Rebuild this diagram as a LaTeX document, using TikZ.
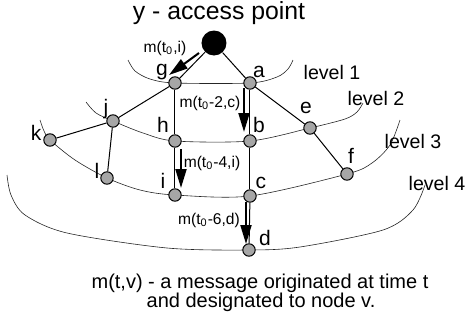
\documentclass[tikz,border=0pt]{standalone}
\usepackage{fontspec}
\setmainfont{Liberation Sans}
\usetikzlibrary{arrows.meta,calc,backgrounds}

\begin{document}
\begin{tikzpicture}[x=0.5pt,y=-0.5pt,
  sensor/.style={circle,draw,line width=0.5pt,fill=black!35,inner sep=0pt,minimum size=6.2pt},
  apoint/.style={circle,fill=black,inner sep=0pt,minimum size=12.5pt},
  lbl/.style={font=\fontsize{10.5}{12}\selectfont,inner sep=0pt,anchor=base},
  msg/.style={font=\fontsize{7.8}{9}\selectfont,inner sep=0pt,anchor=base},
  lvl/.style={font=\fontsize{9.8}{11}\selectfont,inner sep=0pt,anchor=base},
  link/.style={line width=0.5pt},
  ring/.style={line width=0.3pt,black!85},
  flow/.style={line width=1pt,-{Triangle[length=9.5pt,width=5.5pt]}}]
\useasboundingbox (0,0) rectangle (468,322);

% access point and sensors
\node[apoint] (y) at (214,43) {};
\node[sensor] (g) at (175,83) {};
\node[sensor] (a) at (250,83) {};
\node[sensor] (j) at (113,121) {};
\node[sensor] (h) at (175,141) {};
\node[sensor] (b) at (250,141) {};
\node[sensor] (e) at (310,128) {};
\node[sensor] (k) at (50,140) {};
\node[sensor] (l) at (107,178) {};
\node[sensor] (i) at (175,195) {};
\node[sensor] (c) at (250,196) {};
\node[sensor] (f) at (347,174) {};
\node[sensor] (d) at (249,250) {};

% names
\node[font=\fontsize{12.4}{14}\selectfont,inner sep=0pt,anchor=base] (title) at (219,19) {y - access point};
\node[lbl] (tg) at (162,75) {g};
\node[lbl] (ta) at (259,77) {a};
\node[lbl] (tj) at (106,114) {j};
\node[lbl] (th) at (163,132) {h};
\node[lbl] (tk) at (36,140) {k};
\node[lbl] (tl) at (97,178) {l};
\node[lbl] (ti) at (163,188) {i};
\node[lbl] (tb) at (259,132) {b};
\node[lbl] (te) at (306,113) {e};
\node[lbl] (tf) at (351,163) {f};
\node[lbl] (tc) at (261,188) {c};
\node[lbl] (td) at (265,245) {d};

% levels
\node[lvl] (lv1) at (332,79) {level 1};
\node[lvl] (lv2) at (376,105) {level 2};
\node[lvl] (lv3) at (413,148) {level 3};
\node[lvl] (lv4) at (437,190) {level 4};
\begin{scope}[on background layer]
\draw[ring] plot[smooth] coordinates {(128,60) (135,71) (150,79) (g.center) (a.center) (277,77) (288,69) (293,60)};
\draw[ring] plot[smooth] coordinates {(86,102) (96,113) (j.center) (143,133) (h.center) (b.center) (e.center) (345,119) (357,112) (363,103)};
\draw[ring] plot[smooth] coordinates {(40,120) (44,131) (k.center) (75,160) (l.center) (140,190) (i.center) (c.center) (f.center) (372,163) (390,145) (400,120)};
\draw[ring] plot[smooth] coordinates {(7,175) (11,195) (25,215) (67,233) (167,248) (d.center) (300,247) (383,230) (413,210) (425,185)};
\end{scope}

% links
\draw[link] (y) -- (g);
\draw[link] (y) -- (a);
\draw[link] (g) -- (j);
\draw[link] (g) -- (h);
\draw[link] (a) -- (b);
\draw[link] (a) -- (e);
\draw[link] (j) -- (k);
\draw[link] (j) -- (l);
\draw[link] (h) -- (i);
\draw[link] (b) -- (c);
\draw[link] (e) -- (f);
\draw[link] (c) -- (d);

% messages
\draw[flow] ($(y)+(-15,10)$) -- ($(g)+(-6,-8)$);
\node[msg] (m0) at (165,52) {m(t\textsubscript{0},i)};
\draw[flow] ($(a)+(-6,5)$) -- ($(b)+(-6,-9)$);
\node[msg] (m1) at (210,107) {m(t\textsubscript{0}-2,c)};
\draw[flow] ($(h)+(6,8)$) -- ($(i)+(6,-7)$);
\node[msg] (m2) at (212,167) {m(t\textsubscript{0}-4,i)};
\draw[flow] ($(c)+(-4,6)$) -- ($(d)+(-3,-6)$);
\node[msg] (m3) at (209,224) {m(t\textsubscript{0}-6,d)};

% legend
\node[font=\fontsize{10}{12}\selectfont,inner sep=0pt,anchor=base] (cap1) at (260,288) {m(t,v) - a message originated at time t};
\node[font=\fontsize{10}{12}\selectfont,inner sep=0pt,anchor=base] (cap2) at (261,307) {and designated to node v.};
\end{tikzpicture}
\end{document}
